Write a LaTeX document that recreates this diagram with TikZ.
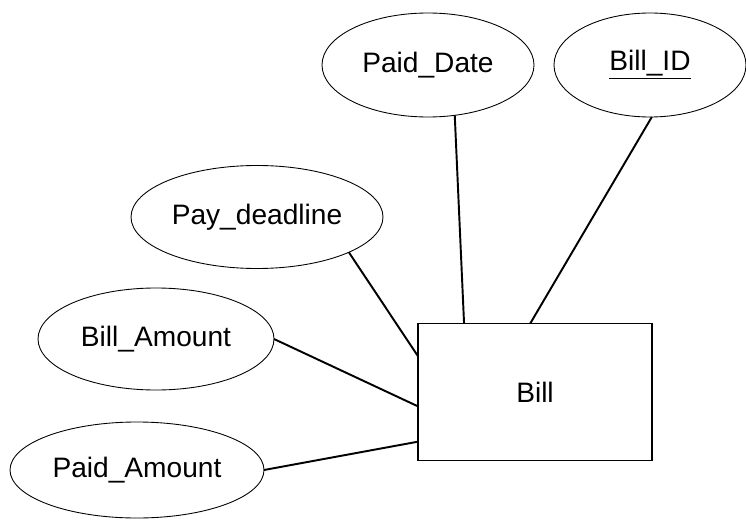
\documentclass[tikz,border=0pt]{standalone}
\usepackage{fontspec}
\setmainfont{Liberation Sans}
\usetikzlibrary{shapes.geometric}

\begin{document}
\begin{tikzpicture}[
  attr/.style={ellipse, draw, line width=0.5pt, inner sep=0pt, outer sep=0pt,
    font=\fontsize{16}{18}\selectfont},
  entity/.style={rectangle, draw, line width=0.9pt, inner sep=0pt, outer sep=0pt,
    minimum width=4.68cm, minimum height=2.74cm, font=\fontsize{16}{18}\selectfont},
  link/.style={line width=1.1pt}
]
  \useasboundingbox (0,0) rectangle (14.92,10.44);

  \node[entity] (bill) at (10.70,2.60) {Bill};

  \node[attr, minimum width=4.24cm, minimum height=2.08cm] (paiddate) at (8.56,9.14) {Paid\_Date};
  \node[attr, minimum width=3.84cm, minimum height=2.08cm] (billid) at (13.00,9.14) {\underline{Bill\_ID}};
  \node[attr, minimum width=5.04cm, minimum height=2.06cm] (paydeadline) at (5.14,6.10) {Pay\_deadline};
  \node[attr, minimum width=4.72cm, minimum height=2.04cm] (billamount) at (3.12,3.66) {Bill\_Amount};
  \node[attr, minimum width=5.08cm, minimum height=1.92cm] (paidamount) at (2.74,1.04) {Paid\_Amount};

  \draw[link] (paiddate.-62) -- (bill.136.6);
  \draw[link] (billid.-88) -- (bill.94.1);
  \draw[link] (paydeadline.-21) -- (bill.163.8);
  \draw[link] (billamount.east) -- (bill.187.8);
  \draw[link] (paidamount.east) -- (bill.203.5);
\end{tikzpicture}
\end{document}
